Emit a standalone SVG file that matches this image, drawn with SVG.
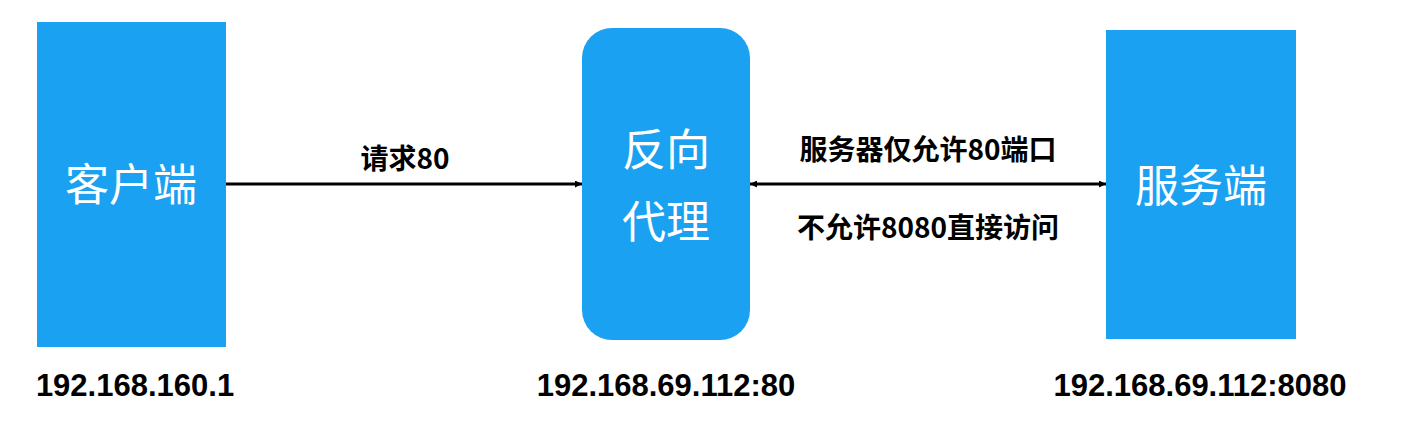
<svg xmlns="http://www.w3.org/2000/svg" width="1403" height="431" viewBox="0 0 1403 431">
<style>
.box{fill:#1ba1f2}
.nt{fill:#fff;font-family:"Noto Sans CJK SC",sans-serif;font-size:44px;text-anchor:middle}
.lb{fill:#000;font-family:"Noto Sans CJK SC",sans-serif;font-size:28px;font-weight:bold;text-anchor:middle}
.ip{fill:#000;font-family:"Liberation Sans",Arial,sans-serif;font-size:31px;font-weight:bold;text-anchor:middle}
.ln{stroke:#000;stroke-width:3;fill:none}
</style>
<defs>
<marker id="ah" viewBox="0 0 10 10" refX="10" refY="5" markerWidth="7" markerHeight="7" markerUnits="userSpaceOnUse" orient="auto-start-reverse">
<path d="M0,0 L10,5 L0,10 z" fill="#000"/>
</marker>
</defs>
<rect width="1403" height="431" fill="#fff"/>
<g id="client"><rect class="box" x="37" y="22" width="189" height="325"/><text class="nt" x="131" y="201">客户端</text></g>
<g id="proxy"><rect class="box" x="582" y="28" width="168" height="312" rx="30"/><text class="nt" x="666" y="166">反向</text><text class="nt" x="666" y="238">代理</text></g>
<g id="server"><rect class="box" x="1106" y="30" width="190" height="309"/><text class="nt" x="1201" y="202">服务端</text></g>
<g id="connectors">
<line class="ln" x1="226" y1="184" x2="582" y2="184" marker-end="url(#ah)" style="stroke-width:3"/>
<line class="ln" x1="750" y1="184" x2="1106" y2="184" marker-start="url(#ah)" marker-end="url(#ah)"/>
</g>
<g id="labels">
<text class="lb" x="405" y="169">请求80</text>
<text class="lb" x="928" y="160">服务器仅允许80端口</text>
<text class="lb" x="928" y="238">不允许8080直接访问</text>
<text class="ip" x="135" y="396">192.168.160.1</text>
<text class="ip" x="666" y="396">192.168.69.112:80</text>
<text class="ip" x="1200" y="396">192.168.69.112:8080</text>
</g>
</svg>
